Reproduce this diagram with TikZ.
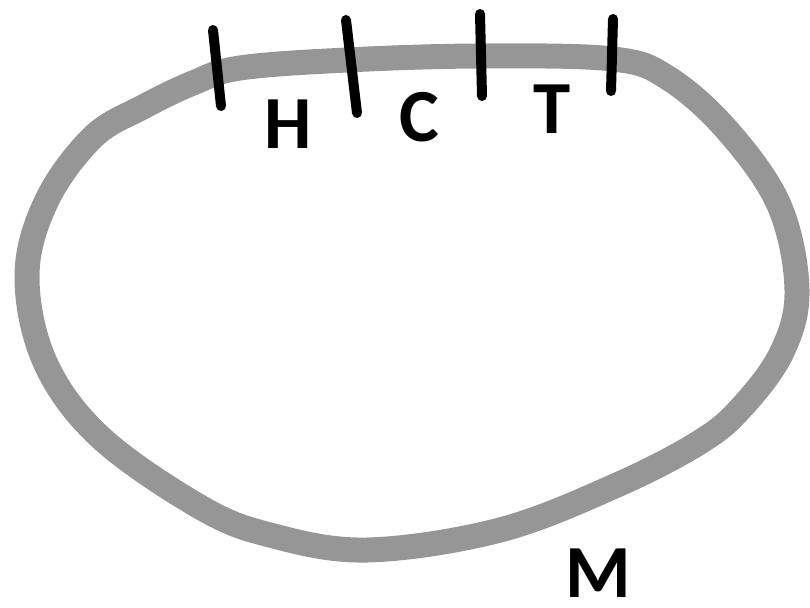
\documentclass[tikz,border=0pt]{standalone}
\usepackage{fontspec}
\setmainfont{Carlito}
\begin{document}
\begin{tikzpicture}[x=1pt,y=-1pt,
  loop/.style={draw={rgb,255:red,150;green,150;blue,150}, line width=25pt, line join=round},
  tick/.style={draw=black, line width=10pt, line cap=round},
  lbl/.style={font=\fontsize{75}{75}\selectfont\bfseries, inner sep=0pt, anchor=base}]
\useasboundingbox (0,0) rectangle (810,607);
\draw[loop] plot[smooth cycle, tension=0.6] coordinates {
  (27,275) (47,200) (93,137) (143,107) (193,83) (240,68) (347,60) (480,56) (613,59)
  (668,78) (727,130) (779,205) (797,290) (782,352) (742,407) (700,442) (617,485)
  (500,530) (367,550) (270,535) (200,507) (100,437) (45,362)};
\coordinate (t1a) at (213,30); \coordinate (t1b) at (221,106);
\coordinate (t2a) at (346,20); \coordinate (t2b) at (357,113);
\coordinate (t3a) at (480,14); \coordinate (t3b) at (482,96);
\coordinate (t4a) at (613,19); \coordinate (t4b) at (611,91);
\draw[tick] (t1a) -- (t1b);
\draw[tick] (t2a) -- (t2b);
\draw[tick] (t3a) -- (t3b);
\draw[tick] (t4a) -- (t4b);
\node[lbl] (H) at (288,148) {H};
\node[lbl] (C) at (419,141) {C};
\node[lbl] (T) at (552,133) {T};
\node[lbl] (M) at (598,597) {M};
\end{tikzpicture}
\end{document}
